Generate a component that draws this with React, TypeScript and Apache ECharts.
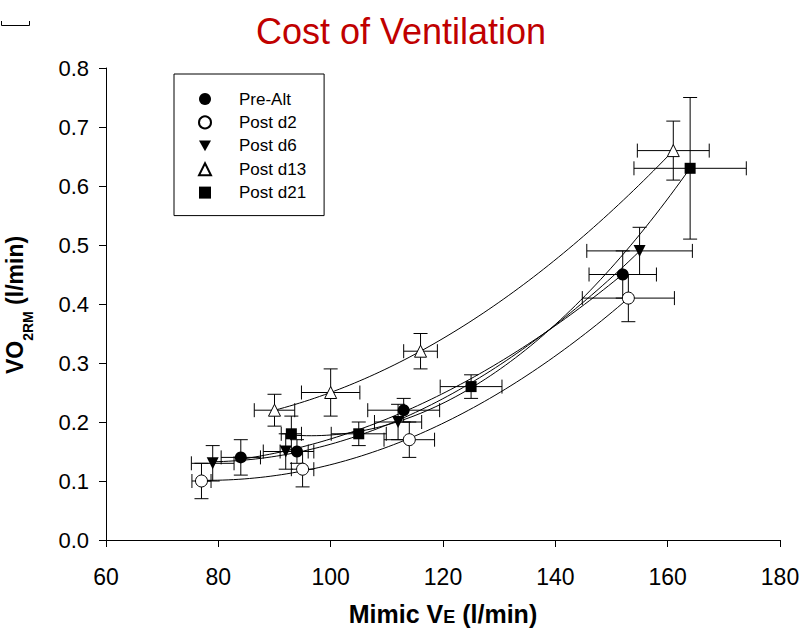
import React, { useEffect, useRef } from 'react';
import * as echarts from 'echarts';

const FONT = '"Liberation Sans", Arial, sans-serif';

const seriesNames = ['Pre-Alt', 'Post d2', 'Post d6', 'Post d13', 'Post d21'];

const preAltX = [84, 94, 113, 152];
const preAltY = [0.14, 0.15, 0.22, 0.45];
const preAltXErr = [3.5, 3, 6.4, 6];
const preAltYErr = [0.03, 0.02, 0.02, 0.04];

const postD2X = [77, 95, 114, 153];
const postD2Y = [0.1, 0.12, 0.17, 0.41];
const postD2XErr = [1.7, 2, 4.5, 8.2];
const postD2YErr = [0.03, 0.03, 0.03, 0.04];

const postD6X = [79, 92, 112, 155];
const postD6Y = [0.13, 0.15, 0.2, 0.49];
const postD6XErr = [3.8, 4, 4.2, 9.4];
const postD6YErr = [0.03, 0.03, 0.03, 0.04];

const postD13X = [90, 100, 116, 161];
const postD13Y = [0.22, 0.25, 0.32, 0.66];
const postD13XErr = [3.6, 5.2, 3, 6.4];
const postD13YErr = [0.027, 0.04, 0.03, 0.05];

const postD21X = [93, 105, 125, 164];
const postD21Y = [0.18, 0.18, 0.26, 0.63];
const postD21XErr = [1.8, 4.9, 5.5, 10];
const postD21YErr = [0.03, 0.02, 0.02, 0.12];

const xTicks = { min: 60, max: 180, interval: 20 };
const yTicks = { min: 0, max: 0.8, interval: 0.1 };

const titleText = 'Cost of Ventilation';
// axis titles as [text, role] pieces: main / small (small-cap or subscript)
const xTitlePieces: [string, string][] = [['Mimic V', 'main'], ['E', 'small'], [' (l/min)', 'main']];
const yTitlePieces: [string, string][] = [['VO', 'main'], ['2RM', 'sub'], [' (l/min)', 'main']];

type Group = {
  name: string;
  x: number[];
  y: number[];
  xe: number[];
  ye: number[];
  symbol: string;
  size: number;
  rotate: number;
  open: boolean;
};

const groups: Group[] = [
  { name: seriesNames[0], x: preAltX, y: preAltY, xe: preAltXErr, ye: preAltYErr, symbol: 'circle', size: 12, rotate: 0, open: false },
  { name: seriesNames[1], x: postD2X, y: postD2Y, xe: postD2XErr, ye: postD2YErr, symbol: 'circle', size: 12, rotate: 0, open: true },
  { name: seriesNames[2], x: postD6X, y: postD6Y, xe: postD6XErr, ye: postD6YErr, symbol: 'triangle', size: 12, rotate: 180, open: false },
  { name: seriesNames[3], x: postD13X, y: postD13Y, xe: postD13XErr, ye: postD13YErr, symbol: 'triangle', size: 12, rotate: 0, open: true },
  { name: seriesNames[4], x: postD21X, y: postD21Y, xe: postD21XErr, ye: postD21YErr, symbol: 'rect', size: 11, rotate: 0, open: false },
];

// least-squares quadratic regression of the data (the fitted curve drawn in the chart)
function quadFit(xs: number[], ys: number[]) {
  const n = xs.length;
  const m = xs.reduce((a, b) => a + b, 0) / n;
  const u = xs.map((x) => x - m);
  const S = [0, 0, 0, 0, 0];
  const T = [0, 0, 0];
  for (let i = 0; i < n; i++) {
    for (let k = 0; k < 5; k++) S[k] += Math.pow(u[i], k);
    for (let k = 0; k < 3; k++) T[k] += Math.pow(u[i], k) * ys[i];
  }
  const A = [
    [S[0], S[1], S[2], T[0]],
    [S[1], S[2], S[3], T[1]],
    [S[2], S[3], S[4], T[2]],
  ];
  for (let c = 0; c < 3; c++) {
    let p = c;
    for (let r = c + 1; r < 3; r++) if (Math.abs(A[r][c]) > Math.abs(A[p][c])) p = r;
    [A[c], A[p]] = [A[p], A[c]];
    for (let r = 0; r < 3; r++) {
      if (r === c) continue;
      const f = A[r][c] / A[c][c];
      for (let k = c; k < 4; k++) A[r][k] -= f * A[c][k];
    }
  }
  const a = A[0][3] / A[0][0];
  const b = A[1][3] / A[1][1];
  const c2 = A[2][3] / A[2][2];
  return (x: number) => a + b * (x - m) + c2 * (x - m) * (x - m);
}

function fitCurve(xs: number[], ys: number[]) {
  const f = quadFit(xs, ys);
  const lo = Math.min(...xs);
  const hi = Math.max(...xs);
  const pts: number[][] = [];
  const steps = 80;
  for (let i = 0; i <= steps; i++) {
    const x = lo + ((hi - lo) * i) / steps;
    pts.push([x, f(x)]);
  }
  return pts;
}

let measureCtx: CanvasRenderingContext2D | null = null;
function measure(text: string, size: number) {
  if (!measureCtx) measureCtx = document.createElement('canvas').getContext('2d');
  if (!measureCtx) return text.length * size * 0.6;
  measureCtx.font = `bold ${size}px "Liberation Sans"`;
  return measureCtx.measureText(text).width;
}

// lay out text pieces on a shared baseline (baseline at local y = 0), centred on local x = 0
function titlePieces(pieces: [string, string][], sizes: Record<string, number>, baseShift: Record<string, number>) {
  const widths = pieces.map(([t, role]) => measure(t, sizes[role]));
  const total = widths.reduce((a, b) => a + b, 0);
  let x = -total / 2;
  return pieces.map(([t, role], i) => {
    const fs = sizes[role];
    const el = {
      type: 'text',
      x,
      y: baseShift[role] - 0.3465 * fs,
      style: {
        text: t,
        fontSize: fs,
        fontWeight: 'bold',
        fontFamily: FONT,
        fill: '#000',
        align: 'left',
        verticalAlign: 'middle',
      },
    };
    x += widths[i];
    return el;
  });
}

export default function App() {
  const ref = useRef<HTMLDivElement>(null);

  useEffect(() => {
    if (!ref.current) return;
    const chart = echarts.init(ref.current, undefined, { renderer: 'svg' });

    const series: any[] = [];
    groups.forEach((g) => {
      series.push({
        type: 'line',
        data: fitCurve(g.x, g.y),
        showSymbol: false,
        symbol: 'none',
        silent: true,
        lineStyle: { color: '#000', width: 1 },
        z: 1,
      });
    });
    groups.forEach((g) => {
      series.push({
        type: 'custom',
        silent: true,
        z: 2,
        encode: { x: 0, y: 1 },
        data: g.x.map((x, i) => [x, g.y[i], g.xe[i], g.ye[i]]),
        renderItem: (params: any, api: any) => {
          const x = api.value(0);
          const y = api.value(1);
          const xe = api.value(2);
          const ye = api.value(3);
          const l = api.coord([x - xe, y]);
          const r = api.coord([x + xe, y]);
          const t = api.coord([x, y + ye]);
          const b = api.coord([x, y - ye]);
          const cap = 7;
          const style = { stroke: '#000', lineWidth: 1, fill: null };
          const line = (x1: number, y1: number, x2: number, y2: number) => ({
            type: 'line',
            shape: { x1, y1, x2, y2 },
            style,
          });
          return {
            type: 'group',
            children: [
              line(l[0], l[1], r[0], r[1]),
              line(l[0], l[1] - cap, l[0], l[1] + cap),
              line(r[0], r[1] - cap, r[0], r[1] + cap),
              line(t[0], t[1], b[0], b[1]),
              line(t[0] - cap, t[1], t[0] + cap, t[1]),
              line(b[0] - cap, b[1], b[0] + cap, b[1]),
            ],
          };
        },
      });
    });
    groups.forEach((g) => {
      series.push({
        type: 'scatter',
        name: g.name,
        data: g.x.map((x, i) => [x, g.y[i]]),
        symbol: g.symbol,
        symbolSize: g.size,
        symbolRotate: g.rotate,
        symbolKeepAspect: true,
        z: 5,
        itemStyle: g.open
          ? { color: '#fff', borderColor: '#000', borderWidth: 1, opacity: 1 }
          : { color: '#000', borderColor: '#000', borderWidth: 0, opacity: 1 },
      });
    });

    const legendData = groups.map((g) =>
      g.rotate === 180 ? { name: g.name, icon: 'path://M0,0L10,0L5,9Z' } : { name: g.name }
    );

    chart.setOption({
      animation: false,
      backgroundColor: '#fff',
      grid: { left: 106, right: 31, top: 68, bottom: 96, containLabel: false, outerBoundsMode: 'none' },
      xAxis: {
        type: 'value',
        min: xTicks.min,
        max: xTicks.max,
        interval: xTicks.interval,
        splitLine: { show: false },
        axisLine: { show: true, onZero: false, lineStyle: { color: '#000', width: 1 } },
        axisTick: { show: true, inside: false, length: 7, lineStyle: { color: '#000' } },
        axisLabel: { color: '#000', fontSize: 23, fontFamily: FONT, margin: 25 },
      },
      yAxis: {
        type: 'value',
        min: yTicks.min,
        max: yTicks.max,
        interval: yTicks.interval,
        splitLine: { show: false },
        axisLine: { show: true, onZero: false, lineStyle: { color: '#000', width: 1 } },
        axisTick: { show: true, inside: false, length: 7, lineStyle: { color: '#000' } },
        axisLabel: {
          color: '#000',
          fontSize: 22,
          fontFamily: FONT,
          margin: 17,
          formatter: (v: number) => v.toFixed(1),
        },
      },
      legend: {
        data: legendData,
        orient: 'vertical',
        left: 174,
        top: 74,
        padding: [15, 18, 13, 24],
        itemWidth: 12,
        itemHeight: 12,
        itemGap: 3.4,
        symbolKeepAspect: true,
        borderColor: '#000',
        borderWidth: 1,
        backgroundColor: '#fff',
        selectedMode: false,
        textStyle: { fontSize: 17, fontFamily: FONT, color: '#000', lineHeight: 20, padding: [0, 0, 0, 23] },
      },
      graphic: [
        {
          type: 'text',
          x: 401,
          y: 31,
          style: {
            text: titleText,
            fill: '#c00000',
            fontSize: 36,
            fontFamily: FONT,
            align: 'center',
            verticalAlign: 'middle',
          },
        },
        {
          type: 'group',
          x: 443,
          y: 623,
          children: titlePieces(xTitlePieces, { main: 25, small: 18 }, { main: 0, small: 0 }),
        },
        {
          type: 'group',
          x: 23,
          y: 305,
          rotation: Math.PI / 2,
          children: titlePieces(yTitlePieces, { main: 23, sub: 14 }, { main: 0, sub: 10 }),
        },
        {
          type: 'polyline',
          shape: { points: [[1.5, 21], [1.5, 25.5], [29.5, 25.5], [29.5, 21]] },
          style: { stroke: '#000', lineWidth: 1, fill: null },
        },
      ],
      series,
    });

    return () => {
      chart.dispose();
    };
  }, []);

  return (
    <div
      ref={ref}
      style={{ position: 'absolute', left: 0, top: 0, width: 811, height: 636, background: '#fff' }}
    />
  );
}
